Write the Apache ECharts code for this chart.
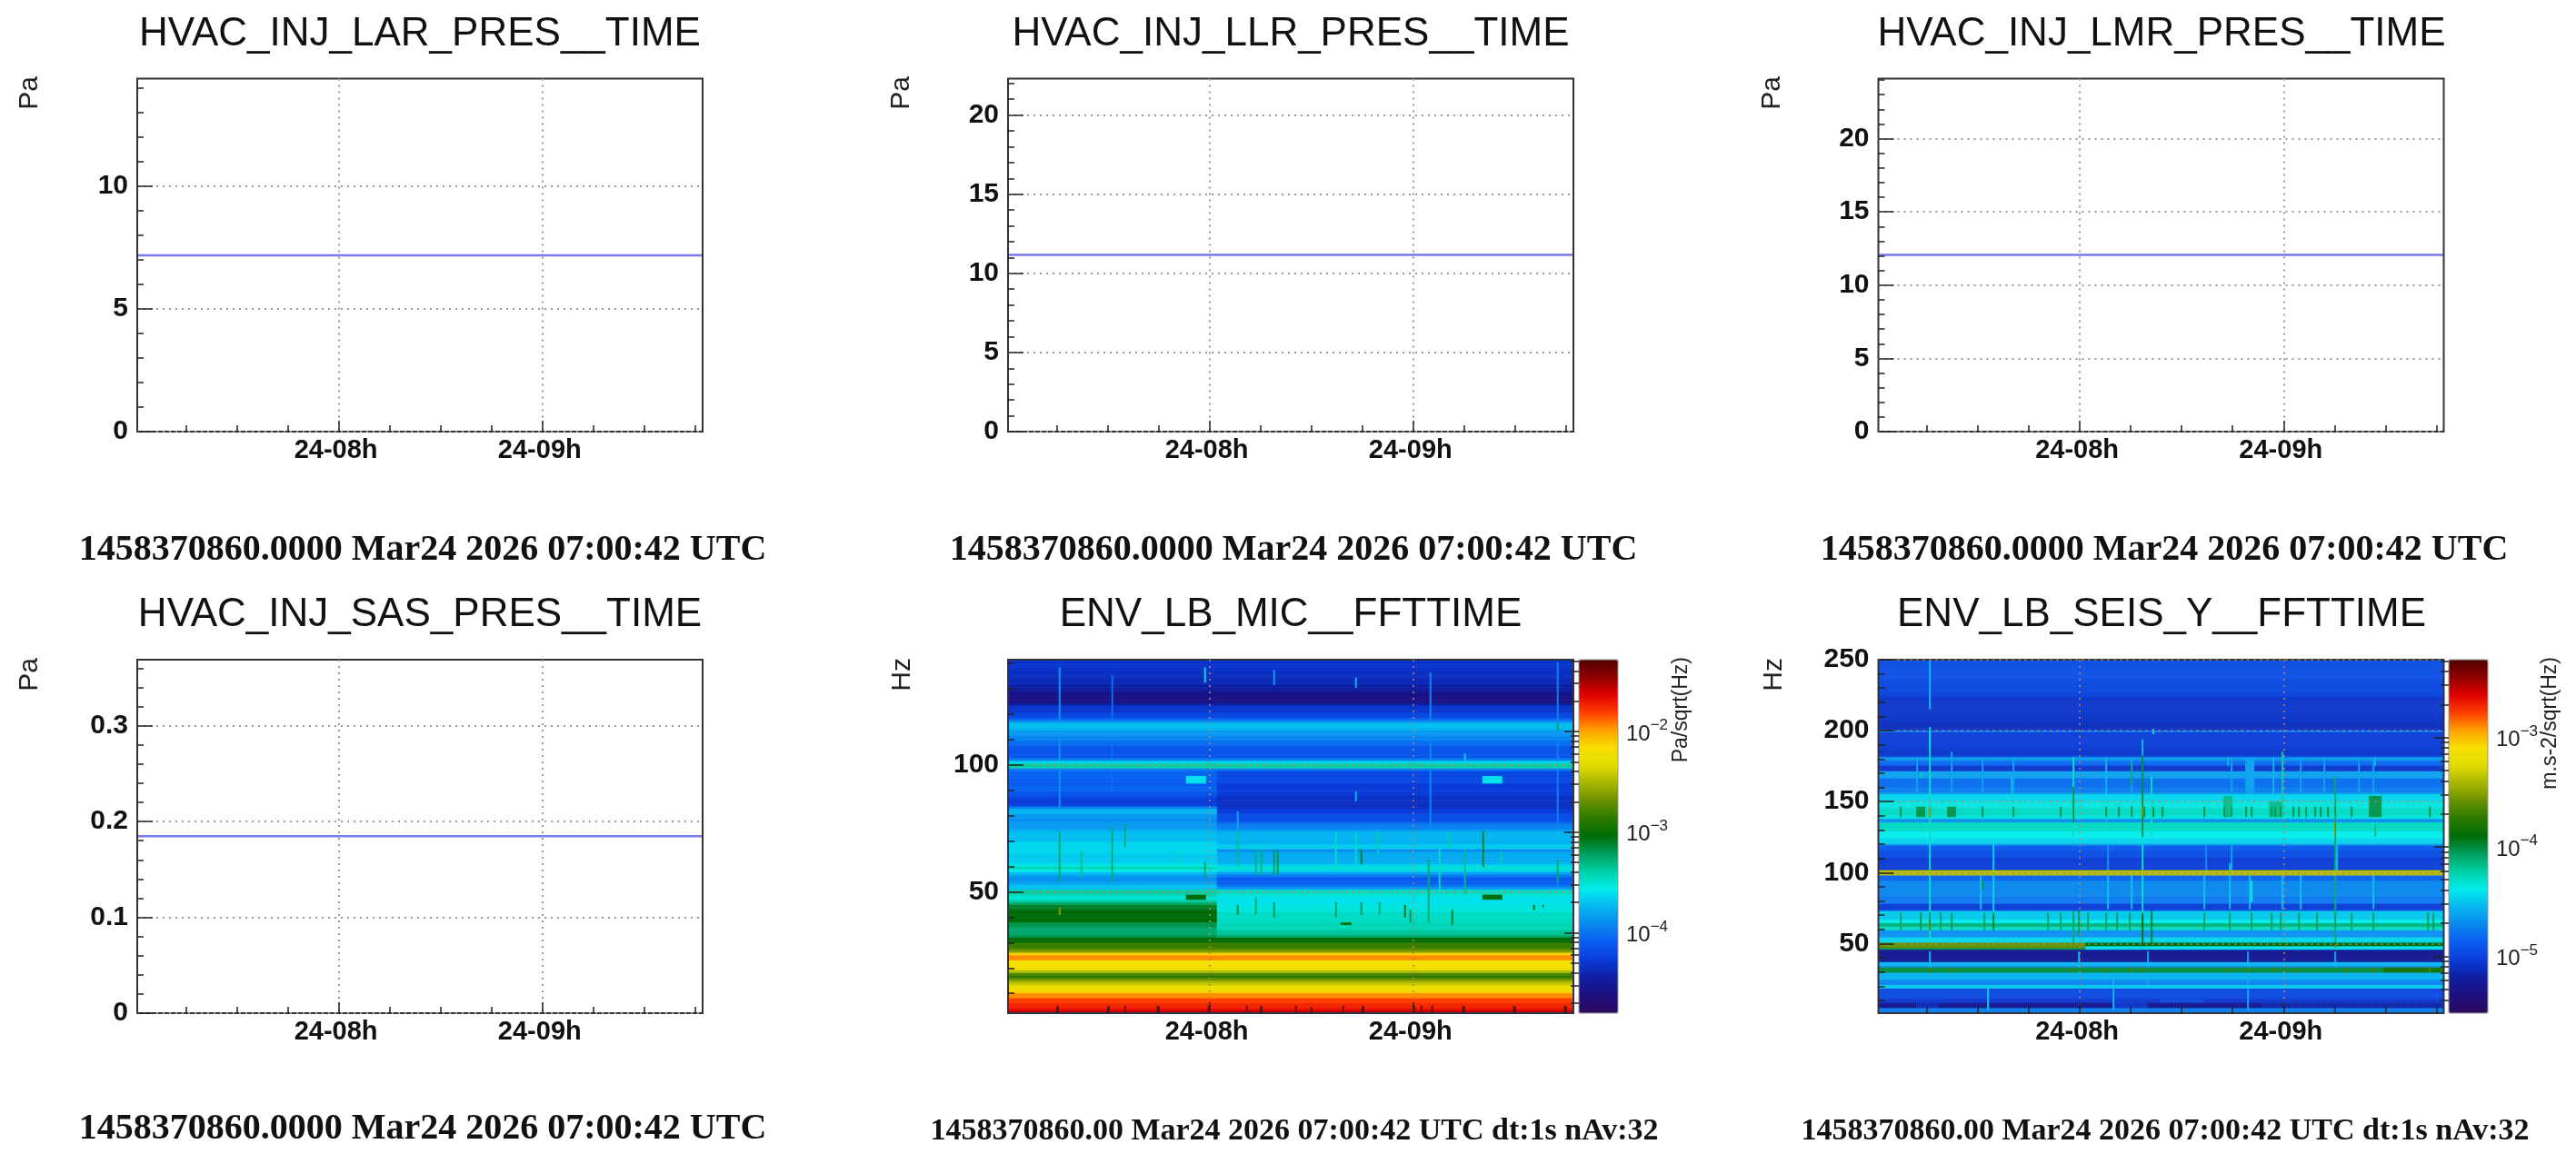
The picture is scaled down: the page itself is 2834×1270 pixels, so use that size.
<!DOCTYPE html>
<html><head><meta charset="utf-8">
<style>html,body{margin:0;padding:0;background:#fff}#c{width:2834px;height:1270px;filter:blur(0.7px)}</style>
<script src="https://cdn.jsdelivr.net/npm/echarts@6/dist/echarts.min.js"></script>
</head><body><div id="c"></div>
<script>
// ---------- data ----------
const timeStart = 7.0117, timeEnd = 9.786;        // hours, 24 Mar
const hourTicks = [8, 9];
const hourLabels = ['24-08h', '24-09h'];
const quarterTicks = [7.25, 7.5, 7.75, 8.25, 8.5, 8.75, 9.25, 9.5, 9.75];

const larPressure = [7.19, 7.19];
const llrPressure = [11.16, 11.16];
const lmrPressure = [12.06, 12.06];
const sasPressure = [0.1847, 0.1847];

const pressureMajor = [0, 5, 10, 15, 20];
const pressureMinor = [1, 2, 3, 4, 6, 7, 8, 9, 11, 12, 13, 14, 16, 17, 18, 19, 21, 22, 23, 24];
const sasMajor = [0, 0.1, 0.2, 0.3];
const sasMinor = [0.02, 0.04, 0.06, 0.08, 0.12, 0.14, 0.16, 0.18, 0.22, 0.24, 0.26, 0.28, 0.32, 0.34, 0.36];
const micMajor = [50, 100];
const micMinor = [10, 20, 30, 40, 60, 70, 80, 90, 110, 120, 130, 140];
const seisMajor = [50, 100, 150, 200, 250];
const seisMinor = [10, 20, 30, 40, 60, 70, 80, 90, 110, 120, 130, 140, 160, 170, 180, 190, 210, 220, 230, 240];

const titles = ['HVAC_INJ_LAR_PRES__TIME', 'HVAC_INJ_LLR_PRES__TIME', 'HVAC_INJ_LMR_PRES__TIME',
  'HVAC_INJ_SAS_PRES__TIME', 'ENV_LB_MIC__FFTTIME', 'ENV_LB_SEIS_Y__FFTTIME'];
const stampLong = '1458370860.0000 Mar24 2026 07:00:42 UTC';
const stampFft = '1458370860.00 Mar24 2026 07:00:42 UTC dt:1s nAv:32';

// Colour scale, 0-100 % of the colour bar, bottom to top
const palette = ['#2c0a5c', '#1e0f80', '#0f1fa0', '#0a3cd8', '#0a5cf0', '#0a88f0', '#06b4f0', '#00ecec', '#00d0a8',
  '#00a060', '#006c08', '#2c7a00', '#689000', '#a8b400', '#e0dc00', '#f8e000', '#ffa000', '#ff4000', '#e00000', '#900000', '#500000'];

// Horizontal bands: [upper frequency Hz, level in % of colour bar]
const micHigh = [[141.5,14],[138,13],[135,12],[132,10],[130,8],[129,6],[126,6],[125,9],[124,14],[121,17],[119,21],[118,26],[117,31],[115,30],[114,27],[112,25],[110,22],[108,19],[104,19],[102.3,24],[101.6,33],[100.7,40],[99.2,33],[98.4,24]];
const micMidBefore = [[98,21],[95,20],[92,21],[90,19],[88,17],[87,15],[84.5,16],[83.5,24],[82.5,30],[80.5,27],[79,25],[77.5,27],[75,29],[74,31],[70,33],[65,32],[62,33],[61,36],[60,39],[59,35],[58.3,31],[56.5,28],[55.8,26],[53.5,28],[52.5,31],[51.2,36],[50.5,40],[49,38],[48,36],[47,40],[46,44],[45,48],[43,50],[39,50],[38,46],[36,44],[33,46]];
const micMidAfter = [[98,17],[92.4,15],[87.6,13],[83,15],[81,18],[78,21],[76.5,24],[75,27],[73.7,30],[69,32],[67.3,25],[66,29],[61.8,30],[60.8,33],[60,37],[59,33],[58.3,28],[57,24],[56.4,20],[52.6,23],[52,27],[51.2,33],[50.5,38],[49,36],[48,34],[45.2,36],[42,38],[38,39],[35,41],[33,44]];
const micLow = [[32,50],[31,51],[30.2,56],[28,58],[27,62],[26.5,70],[25.6,76],[25,81],[23.5,78],[22.8,74],[20.5,73],[19.6,66],[18.5,58],[17.5,55],[16.5,60],[15,65],[14,68],[13,73],[11,76],[10.4,81],[8.5,83],[7.8,85],[6,87],[4.5,89],[3.5,92]];
const micStepHour = 8.04;
// Transients: [from hour, to hour, upper Hz, lower Hz, level %]
const micEvents = [
  [7.269,7.269,139,74,26],[7.269,7.269,74,54,44],[7.269,7.269,44,41,62],[7.371,7.371,66,56,42],[7.526,7.526,136,90,22],
  [7.526,7.526,76,54,44],[7.584,7.584,77,68,44],[7.846,7.846,66.6,60.6,38],[7.977,7.977,139,133,33],[7.977,7.977,62,56,44],
  [8.136,8.136,73.7,60,42],[8.136,8.136,82,74,28],[8.233,8.233,67,57,43],[8.252,8.252,67,57,43],[8.32,8.32,138,132,27],
  [8.32,8.32,67,56.5,45],[8.339,8.339,66,56.5,46],[8.62,8.62,73.7,59,38],[8.717,8.717,135,131,30],[8.717,8.717,90,86,30],[8.717,8.717,73.7,60.6,38],
  [8.746,8.746,67,61,48],[8.823,8.823,73.7,65,40],[9.075,9.075,63,38,44],[9.085,9.085,137,72,25],[9.133,9.133,66.6,51,38],[9.172,9.172,73.7,66.6,40],[9.259,9.259,67,49,42],
  [9.259,9.259,105,102,32],[9.34,9.34,73.7,60,48],[9.433,9.433,66,62,40],[9.714,9.714,141,50,24],[9.714,9.714,117,114,45],[9.714,9.714,63,54,44],
  [7.894,7.98,95.3,93,34],[9.346,9.433,95.3,93,34],[7.894,7.98,49,46.5,50],[9.346,9.433,49,46.5,50],[8.649,8.697,38.3,37,52],
  [8.136,8.136,45,41.5,47],[8.233,8.233,47.5,41.5,44],[8.32,8.32,46,40.5,46],[8.62,8.62,46,40.5,45],[8.746,8.746,45.5,41.5,46],
  [8.84,8.84,46,41.5,44],[8.959,8.959,45,40.5,50],[8.988,8.988,43,38,46],[9.19,9.19,43,37,48],[9.598,9.598,45,43,50],[9.64,9.64,45,43.5,48],
  [7.255,7.255,5,2.2,97],[7.507,7.507,5,2.2,97],[7.59,7.59,5,2.2,97],[7.749,7.749,5,2.2,97],[8.0,8.0,5,2.2,97],[8.184,8.184,5,2.2,97],
  [8.252,8.252,5,2.2,97],[8.426,8.426,5,2.2,97],[8.659,8.659,5,2.2,97],[8.755,8.755,5,2.2,97],[9.007,9.007,5,2.2,97],[9.045,9.045,5,2.2,97],
  [9.094,9.094,5,2.2,97],[9.249,9.249,5,2.2,97],[9.5,9.5,5,2.2,97],[9.75,9.75,5,2.2,97]];

const seisHigh = [[250,18],[236,17],[226,16],[224,14],[206,13],[201.4,14],[200.6,24],[199,15],[186,14],[182.5,17],[181.5,27],[179,22],[177,20],[174.7,14],[171.5,18],[171,28],[167,25],[166,22],[160,24],[157,27],[156,33],[150,36],[145,38],[141,39],
  [140,36],[138.5,31],[138,26],[135.5,31],[135,38],[129,37],[128.7,35],[124.5,33],[120,28],[119,20],[116,18],[110.7,15],[103,15],[102,21],[101.5,66],[98.5,21],[94.7,25],[83,23],[78.5,19],[77.7,15],[74,17],
  [73,32],[67,35],[65,43],[61.7,38],[60,44],[59,26],[55,33]];
const seisFiftyBefore = [[50.5,60],[46.8,46]];
const seisFiftyAfter = [[51,35],[50.4,50],[48.3,34],[46,36]];
const seisLow = [[45.3,9],[44,8],[38,9],[37,30],[34,26],[33,47],[29.8,30],[24.5,25],[21,32],[18.5,17],[12,16],[10.6,14],[8.5,8],[4.3,24]];
const seisStepHour = 8.03;
const seisEvents = [
  [7.269,7.269,250,215.5,30],[7.269,7.269,203,190,34],[7.269,7.269,190,46,38],[7.269,7.269,147,139,62],[7.269,7.269,67,60,58],[7.269,7.269,45,31,30],
  [7.201,7.24,147,139,46],[7.22,7.22,72,60,46],[7.22,7.22,170,166,40],[7.356,7.395,147,139,46],[7.375,7.375,185,156,28],[7.375,7.375,69,60,46],
  [7.526,7.526,175,126,27],[7.526,7.526,94,88,46],[7.578,7.578,120,60,32],[7.578,7.578,71,60,48],
  [7.549,7.549,18,3.2,32],[7.665,7.665,168,139,30],[7.975,7.975,181,126,38],[7.975,7.975,160,135,46],[7.975,7.975,73,50,44],[7.995,7.995,73,56,46],
  [8.13,8.13,181,126,30],[8.168,8.168,24.5,3.2,30],[8.255,8.255,178,162,44],[8.313,8.313,194,183,30],[8.313,8.313,183,126,47],[8.313,8.313,147,139,60],[8.313,8.313,128,46,38],[8.313,8.313,71,50,50],
  [8.356,8.356,168,126,38],[8.356,8.356,73,50,48],[8.36,8.36,201,198,38],[8.73,8.73,181,175,30],[8.74,8.74,107,80,30],[8.71,8.75,154,139,42],[8.82,8.85,181,139,28],[8.845,8.845,94,80,36],
  [8.95,8.95,181,139,30],[8.932,8.99,150,139,42],[9,9,185,139,40],
  [9.257,9.257,168,129,44],[9.257,9.257,135,126,60],[9.257,9.257,128,49,44],[9.257,9.257,50,46.8,60],
  [9.425,9.474,154,139,46],[9.45,9.45,181,175,30],[9.45,9.45,134,126,42],
  [7.269,7.269,33,29.8,56],[7.375,7.375,33,29.8,56],[7.975,7.975,33,29.8,56],[8.13,8.13,33,29.8,56],[8.255,8.255,33,29.8,56],[8.313,8.313,33,29.8,56],
  [8.73,8.73,33,29.8,56],[8.83,8.83,33,29.8,56],[8.95,8.95,33,29.8,56],[9.07,9.07,33,29.8,56],[9.31,9.31,33,29.8,56],[9.44,9.44,33,29.8,56],[9.72,9.72,33,29.8,56],
  [9.5,9.78,33,29.8,52],
  [8.826,8.826,44.7,3.2,28],[8.333,8.333,44.7,18,28],[7.994,7.994,44.7,29,30],[9.257,9.257,44.7,33,28],
  [8.623,8.623,120,101,25],[8.749,8.749,120,101,28],[9.261,9.261,120,101,30],[8.139,8.139,120,101,26],
  [8.18,8.33,8.5,4.3,14],[7.2,7.3,8.5,4.3,12],[8.9,9.78,8.5,4.3,11],[8.4,8.6,10.6,8.5,17]];
// Hours of the short dark blotches and faint streaks seen in three frequency ranges
const seisBlotch145 = [7.124,7.22,7.269,7.366,7.395,7.526,7.675,7.907,7.975,8.13,8.197,8.255,8.323,8.362,8.41,8.613,8.71,8.749,8.816,8.845,8.942,8.961,8.99,9.048,9.077,9.116,9.155,9.184,9.222,9.257,9.335,9.451,9.716];
const seisBlotch66 = [7.124,7.22,7.269,7.317,7.375,7.53,7.578,7.849,7.907,7.975,7.994,8.043,8.13,8.188,8.246,8.313,8.352,8.613,8.739,8.845,8.942,8.99,9.077,9.164,9.257,9.335,9.445,9.706,9.735];
const seisStreak165 = [7.2,7.375,7.526,7.675,8.13,8.255,8.749,8.816,8.95,9.09,9.2,9.37,9.44];
const seisStreak86 = [7.269,7.52,7.578,8.14,8.255,8.313,8.613,8.74,8.84,9.0,9.09,9.257,9.44];

const micScale = { lo: -4.8, hi: -1.286, major: [-2, -3, -4], minFreq: 2.2, maxFreq: 141.5, rows: 140 };
const seisScale = { lo: -5.52, hi: -2.29, major: [-3, -4, -5], minFreq: 1, maxFreq: 250, rows: 200 };
const timeColumns = 311;

// ---------- layout ----------
const colX = [151, 1109, 2066.5], colW = 622;
const rowY = [86.5, 726], plotH = [388.5, 389];
const black = '#222', sans = 'Liberation Sans', serif = 'Liberation Serif';

const opt = { animation: false, backgroundColor: '#fff', title: [], grid: [], xAxis: [], yAxis: [], series: [], visualMap: [], graphic: [] };

function addAxes(rect, xvals, xlabels, yvals, ymax, opts) {
  const g = opt.grid.length;
  const major = opts.major;
  opt.grid.push({ left: rect.x, top: rect.y, width: rect.w, height: rect.h, show: major, z: 10,
    backgroundColor: 'transparent', borderColor: opts.frame, borderWidth: 2, containLabel: false });
  const dots = { show: major, lineStyle: { type: [2, 5], color: opts.dots, width: 2 } };
  opt.xAxis.push({ type: 'value', gridIndex: g, min: timeStart, max: timeEnd, z: 10,
    axisLine: { show: false },
    axisTick: { show: true, inside: true, customValues: xvals, length: major ? 12 : 7, lineStyle: { color: black, width: 1.5 } },
    axisLabel: { show: major, customValues: xvals, margin: 6, padding: [0, 6, 0, 0], color: '#111', fontFamily: sans, fontWeight: 'bold', fontSize: 29,
      formatter: v => xlabels[xvals.indexOf(v)] },
    splitLine: dots });
  opt.yAxis.push({ type: 'value', gridIndex: g, min: opts.ymin || 0, max: ymax, z: 10,
    axisLine: { show: false },
    axisTick: { show: true, inside: true, customValues: yvals, length: major ? 17 : 7, lineStyle: { color: black, width: 1.5 } },
    axisLabel: { show: major, customValues: yvals, margin: 10, color: '#111', fontFamily: sans, fontWeight: 'bold', fontSize: 30 },
    splitLine: dots });
  return g;
}

function label(text, col, row, fontSize, x, y) {
  opt.title.push({ text, left: x, top: y, padding: 0, textAlign: 'center', textVerticalAlign: 'middle',
    textStyle: { fontFamily: col, fontWeight: row, fontSize, color: '#111' } });
}
function sideName(text, x, y, size) {
  opt.graphic.push({ type: 'text', x, y, rotation: Math.PI / 2, z: 20,
    style: { text, align: 'right', verticalAlign: 'middle', fontFamily: sans, fontSize: size, fill: '#222' } });
}

function pressurePanel(c, r, values, ymax, major, minor) {
  const rect = { x: colX[c], y: rowY[r], w: colW, h: plotH[r] };
  const styleMajor = { major: true, frame: '#333', dots: '#999' };
  const g = addAxes(rect, hourTicks, hourLabels, major, ymax, styleMajor);
  addAxes(rect, quarterTicks, [], minor, ymax, { major: false, frame: '#333', dots: '#999' });
  opt.series.push({ type: 'line', xAxisIndex: g, yAxisIndex: g, showSymbol: false, z: 5, silent: true,
    data: [[timeStart, values[0]], [timeEnd, values[1]]], lineStyle: { color: '#7a7af0', width: 2.5 } });
}

function bandLevel(bands, f) {
  let level = bands[0][1];
  for (const b of bands) { if (f <= b[0]) level = b[1]; else break; }
  return level;
}

function spectrogram(c, r, scale, before, after, stepHour, events, major, minor, barX, barName, barNameX) {
  const rect = { x: colX[c], y: rowY[r], w: colW, h: plotH[r] };
  const g = opt.grid.length;
  opt.grid.push({ left: rect.x, top: rect.y, width: rect.w, height: rect.h, show: false });
  const N = timeColumns, M = scale.rows;
  const dt = (timeEnd - timeStart) / N, df = (scale.maxFreq - scale.minFreq) / M;
  const xs = [], ys = [];
  for (let i = 0; i < N; i++) xs.push(timeStart + (i + 0.5) * dt);
  for (let j = 0; j < M; j++) ys.push(scale.minFreq + (j + 0.5) * df);
  opt.xAxis.push({ type: 'category', gridIndex: g, data: xs, show: false });
  opt.yAxis.push({ type: 'category', gridIndex: g, data: ys, show: false });
  const grid = xs.map(t => ys.map(f => bandLevel(t < stepHour ? before : after, f)));
  for (const e of events) {
    const i0 = Math.floor((e[0] - timeStart) / dt), i1 = Math.floor((e[1] - timeStart) / dt);
    for (let i = Math.max(i0, 0); i <= Math.min(i1, N - 1); i++)
      for (let j = 0; j < M; j++) if (ys[j] <= e[2] && ys[j] >= e[3]) grid[i][j] = Math.max(grid[i][j], e[4]);
  }
  const span = scale.hi - scale.lo, cells = [];
  for (let i = 0; i < N; i++) for (let j = 0; j < M; j++) cells.push([i, j, scale.lo + span * grid[i][j] / 100]);
  const sIdx = opt.series.length;
  opt.series.push({ type: 'heatmap', xAxisIndex: g, yAxisIndex: g, data: cells, progressive: 0, silent: true, z: 2,
    itemStyle: { borderWidth: 0 }, emphasis: { disabled: true } });
  opt.visualMap.push({ type: 'continuous', seriesIndex: sIdx, min: scale.lo, max: scale.hi, left: barX, top: rowY[r], padding: 0,
    itemWidth: 43, itemHeight: plotH[r], calculable: false, realtime: false, hoverLink: false, inRange: { color: palette }, textStyle: { fontSize: 0 } });
  const style = { frame: '#334', dots: 'rgba(170,135,110,0.8)' };
  addAxes(rect, hourTicks, hourLabels, major, scale.maxFreq, { major: true, ymin: scale.minFreq, ...style });
  addAxes(rect, quarterTicks, [], minor, scale.maxFreq, { major: false, ymin: scale.minFreq, ...style });
  // colour bar axis (log10 amplitude)
  const bg = opt.grid.length;
  opt.grid.push({ left: barX, top: rowY[r], width: 43, height: plotH[r], show: true, z: 10, backgroundColor: 'transparent', borderColor: '#999', borderWidth: 1 });
  opt.xAxis.push({ type: 'value', gridIndex: bg, min: 0, max: 1, show: false });
  opt.yAxis.push({ type: 'value', gridIndex: bg, min: scale.lo, max: scale.hi, position: 'right', z: 10, axisLine: { show: false }, splitLine: { show: false },
    axisTick: { show: true, inside: true, length: 16, customValues: scale.major, lineStyle: { color: black, width: 1.5 } },
    axisLabel: { show: true, customValues: scale.major, margin: 9, align: 'left', color: '#222',
      formatter: v => '{b|10}{s|' + String(v).replace('-', '\u2212') + '}',
      rich: { b: { fontFamily: sans, fontSize: 24, lineHeight: 30, verticalAlign: 'bottom', color: '#222' },
              s: { fontFamily: sans, fontSize: 17, lineHeight: 30, verticalAlign: 'top', color: '#222' } } } });
  const bg2 = opt.grid.length, decades = [];
  for (let d = Math.floor(scale.lo); d < Math.ceil(scale.hi); d++)
    for (let k = 2; k < 10; k++) { const v = d + Math.log10(k); if (v > scale.lo && v < scale.hi) decades.push(v); }
  opt.grid.push({ left: barX, top: rowY[r], width: 43, height: plotH[r], show: false, z: 10 });
  opt.xAxis.push({ type: 'value', gridIndex: bg2, min: 0, max: 1, show: false });
  opt.yAxis.push({ type: 'value', gridIndex: bg2, min: scale.lo, max: scale.hi, position: 'right', z: 10, axisLine: { show: false }, splitLine: { show: false }, axisLabel: { show: false },
    axisTick: { show: true, inside: true, length: 9, customValues: decades, lineStyle: { color: black, width: 1.5 } } });
  sideName(barName, barNameX, rowY[r] - 3, 23);
}

// ---------- panels ----------
pressurePanel(0, 0, larPressure, 14.39, pressureMajor, pressureMinor);
pressurePanel(1, 0, llrPressure, 22.3, pressureMajor, pressureMinor);
pressurePanel(2, 0, lmrPressure, 24.1, pressureMajor, pressureMinor);
pressurePanel(0, 1, sasPressure, 0.369, sasMajor, sasMinor);
spectrogram(1, 1, micScale, micHigh.concat(micMidBefore, micLow), micHigh.concat(micMidAfter, micLow), micStepHour, micEvents, micMajor, micMinor, 1737, 'Pa/sqrt(Hz)', 1850);
const seisExtra = [];
seisBlotch145.forEach(h => seisExtra.push([h, h, 147, 139, 46]));
seisBlotch66.forEach(h => seisExtra.push([h, h, 72, 60, 45]));
seisStreak165.forEach(h => seisExtra.push([h, h, 181, 150, 28]));
seisStreak86.forEach(h => seisExtra.push([h, h, 98, 74, 31]));
spectrogram(2, 1, seisScale, seisHigh.concat(seisFiftyBefore, seisLow), seisHigh.concat(seisFiftyAfter, seisLow), seisStepHour, seisEvents.concat(seisExtra), seisMajor, seisMinor, 2694, 'm.s-2/sqrt(Hz)', 2806);

const titleX = [462, 1420, 2378];
titles.forEach((t, i) => {
  const c = i % 3, r = i < 3 ? 0 : 1;
  opt.title.push({ text: t, left: titleX[c], top: r ? 677 : 38, padding: 0, textAlign: 'center', textVerticalAlign: 'middle',
    textStyle: { fontFamily: sans, fontWeight: 'normal', fontSize: 44, color: '#111' } });
});
[[465, 606], [1423, 606], [2381, 606], [465, 1243]].forEach(p => label(stampLong, serif, 'bold', 40, p[0], p[1]));
[[1424, 1245], [2382, 1245]].forEach(p => label(stampFft, serif, 'bold', 34, p[0], p[1]));
[[33, 84, 'Pa'], [992, 84, 'Pa'], [1950, 84, 'Pa'], [33, 724, 'Pa'], [993, 724, 'Hz'], [1952, 724, 'Hz']].forEach(p => sideName(p[2], p[0], p[1], 30));

echarts.init(document.getElementById('c'), null, { renderer: 'canvas' }).setOption(opt);
</script></body></html>
